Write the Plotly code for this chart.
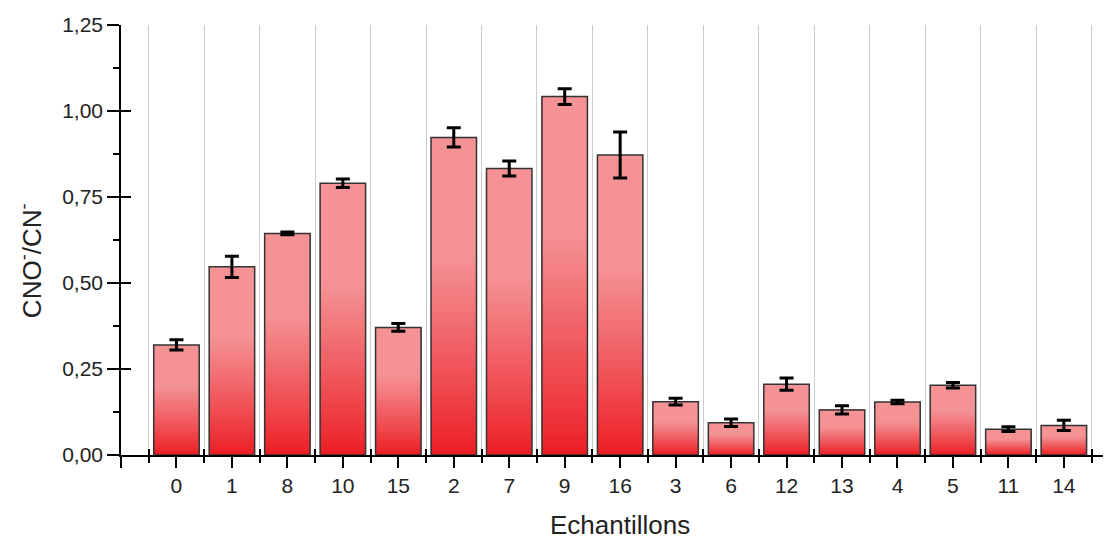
import plotly.graph_objects as go

samples = ["0", "1", "8", "10", "15", "2", "7", "9", "16", "3", "6", "12", "13", "4", "5", "11", "14"]
ratio = [0.320, 0.547, 0.644, 0.790, 0.371, 0.923, 0.833, 1.042, 0.872,
         0.155, 0.094, 0.206, 0.131, 0.154, 0.203, 0.075, 0.086]
ratio_err = [0.015, 0.031, 0.004, 0.0125, 0.011, 0.028, 0.022, 0.023, 0.067,
             0.0097, 0.011, 0.0175, 0.012, 0.005, 0.008, 0.007, 0.015]
y_ticks = [0, 0.25, 0.5, 0.75, 1.0, 1.25]

pos = list(range(len(samples)))
FONT = "Liberation Sans, Arial, sans-serif"

pink = (244, 146, 149)
red = (236, 30, 36)
N = 60

fig = go.Figure()
# gradient fill: each layer covers from its fraction of the bar to the bar top
for k in range(N):
    f = k / N
    t = min(f / 0.62, 1.0) ** 0.9
    col = "rgb(%d,%d,%d)" % tuple(round(r + (p - r) * t) for r, p in zip(red, pink))
    fig.add_trace(go.Bar(
        x=pos, y=[v * (1 - f) for v in ratio], base=[v * f for v in ratio],
        width=0.82, marker=dict(color=col, line=dict(width=0)),
        hoverinfo="skip", showlegend=False))

# outline + error bars
fig.add_trace(go.Bar(
    x=pos, y=ratio, width=0.82,
    marker=dict(color="rgba(0,0,0,0)", line=dict(color="#333333", width=1.5)),
    error_y=dict(type="data", array=ratio_err, color="black", thickness=3, width=7),
    showlegend=False))

# dummy trace for overlay axes (inside tick halves)
fig.add_trace(go.Scatter(x=[None], y=[None], xaxis="x2", yaxis="y2", showlegend=False))

xr = [-1, 16.85]
bounds = [p - 0.5 for p in pos] + [pos[-1] + 0.5]

fig.update_layout(
    width=1103, height=532,
    margin=dict(l=113, r=0, t=17, b=85),
    paper_bgcolor="white", plot_bgcolor="white",
    barmode="overlay",
    separators=",.",
    font=dict(family=FONT, size=21, color="#222222"),
    xaxis=dict(
        range=xr, tickmode="array", tickvals=[-1] + pos, ticktext=[""] + samples,
        ticks="outside", ticklen=11, tickwidth=1.5, tickcolor="black",
        showline=True, linecolor="black", linewidth=1.5,
        showgrid=False, zeroline=False,
        tickfont=dict(size=21, family=FONT, color="#222222"),
        minor=dict(tickmode="array", tickvals=bounds, ticks="outside", ticklen=6,
                   tickwidth=1.5, tickcolor="black",
                   showgrid=True, gridcolor="#cccccc", gridwidth=1),
    ),
    xaxis2=dict(
        range=xr, overlaying="x", showline=False, showgrid=False, zeroline=False,
        tickmode="array", tickvals=[], showticklabels=False, ticks="",
        minor=dict(tickmode="array", tickvals=bounds, ticks="inside", ticklen=6,
                   tickwidth=1.5, tickcolor="black", showgrid=False),
    ),
    yaxis=dict(
        range=[0, 1.25], tickmode="array", tickvals=y_ticks, tickformat=".2f",
        ticks="outside", ticklen=12, tickwidth=1.5, tickcolor="black",
        showline=True, linecolor="black", linewidth=1.5,
        showgrid=False, zeroline=False,
        tickfont=dict(size=21, family=FONT, color="#222222"),
        minor=dict(tickmode="linear", tick0=0, dtick=0.125, ticks="outside",
                   ticklen=6, tickwidth=1.5, tickcolor="black", showgrid=False),
    ),
    yaxis2=dict(
        range=[0, 1.25], overlaying="y", showline=False, showgrid=False, zeroline=False,
        tickmode="array", tickvals=y_ticks, showticklabels=False,
        ticks="inside", ticklen=10, tickwidth=1.5, tickcolor="black",
    ),
    annotations=[
        dict(text="Echantillons", xref="paper", yref="paper", x=0.504, y=-0.162,
             xanchor="center", yanchor="middle", showarrow=False,
             font=dict(size=26, family=FONT, color="#222222")),
        dict(text="CNO<sup>-</sup>/CN<sup>-</sup>", xref="paper", yref="paper",
             x=-0.092, y=0.453, xanchor="center", yanchor="middle", textangle=-90,
             showarrow=False, font=dict(size=26, family=FONT, color="#222222")),
    ],
)

fig.write_html("out.html")
